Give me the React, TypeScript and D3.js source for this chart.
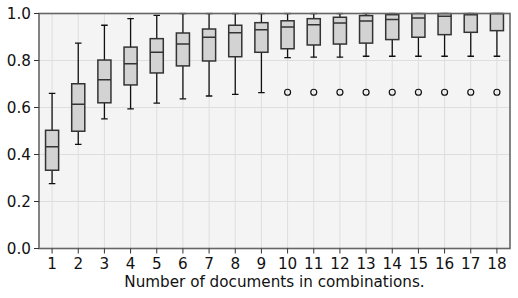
import * as d3 from "d3"

const W = 518
const H = 298
const margin = { top: 13.5, right: 8, bottom: 49.5, left: 39 }
const innerW = W - margin.left - margin.right
const innerH = H - margin.top - margin.bottom

const FONT = "DejaVu Sans, sans-serif"
const FONT_SIZE = 15.2

// counts of documents in a combination
const categories = [1, 2, 3, 4, 5, 6, 7, 8, 9, 10, 11, 12, 13, 14, 15, 16, 17, 18]
const q1 = [0.333, 0.499, 0.62, 0.696, 0.747, 0.777, 0.798, 0.816, 0.835, 0.85, 0.866, 0.87, 0.874, 0.889, 0.899, 0.91, 0.92, 0.927]
const medians = [0.433, 0.614, 0.718, 0.786, 0.835, 0.87, 0.899, 0.918, 0.931, 0.943, 0.952, 0.96, 0.968, 0.974, 0.981, 0.988, 0.995, 1.0]
const q3 = [0.503, 0.701, 0.802, 0.857, 0.893, 0.917, 0.934, 0.95, 0.961, 0.969, 0.978, 0.984, 0.991, 0.995, 1.0, 1.0, 1.0, 1.0]
const whiskerLow = [0.276, 0.443, 0.552, 0.594, 0.619, 0.637, 0.649, 0.656, 0.663, 0.812, 0.814, 0.814, 0.818, 0.818, 0.818, 0.818, 0.818, 0.818]
const whiskerHigh = [0.66, 0.874, 0.95, 0.978, 0.992, 1.0, 1.0, 1.0, 1.0, 1.0, 1.0, 1.0, 1.0, 1.0, 1.0, 1.0, 1.0, 1.0]
const outliers: number[][] = [[], [], [], [], [], [], [], [], [], [0.665], [0.665], [0.665], [0.665], [0.665], [0.665], [0.665], [0.665], [0.665]]
const yTicks = [0, 0.2, 0.4, 0.6, 0.8, 1.0]
const xLabel = "Number of documents in combinations."

export default function App() {
  const x = d3.scaleLinear().domain([0.5, 18.5]).range([0, innerW])
  const y = d3.scaleLinear().domain([0, 1]).range([innerH, 0])
  const boxW = x(1.25) - x(1)
  const capW = x(1.125) - x(1)

  return (
    <div style={{ position: "fixed", left: 0, top: 0 }}>
      <svg width={W} height={H} style={{ display: "block", background: "#fff" }}>
        <defs>
          <clipPath id="plot-clip">
            <rect x={-2} y={-1} width={innerW + 4} height={innerH + 2} />
          </clipPath>
        </defs>
        <g transform={`translate(${margin.left},${margin.top})`}>
          <rect width={innerW} height={innerH} fill="#f4f4f4" />

          {/* grid */}
          {yTicks.map((t) => (
            <line key={"gy" + t} x1={0} x2={innerW} y1={y(t)} y2={y(t)} stroke="#dedede" strokeWidth={1} />
          ))}
          {categories.map((c) => (
            <line key={"gx" + c} x1={x(c)} x2={x(c)} y1={0} y2={innerH} stroke="#dedede" strokeWidth={1} />
          ))}

          {/* boxes */}
          <g clipPath="url(#plot-clip)">
            {categories.map((c, i) => {
              const cx = x(c)
              return (
                <g key={"b" + c}>
                  <line x1={cx} x2={cx} y1={y(q1[i])} y2={y(whiskerLow[i])} stroke="#111" strokeWidth={1.3} />
                  <line x1={cx} x2={cx} y1={y(q3[i])} y2={y(whiskerHigh[i])} stroke="#111" strokeWidth={1.3} />
                  <line x1={cx - capW} x2={cx + capW} y1={y(whiskerLow[i])} y2={y(whiskerLow[i])} stroke="#111" strokeWidth={1.3} />
                  <line x1={cx - capW} x2={cx + capW} y1={y(whiskerHigh[i])} y2={y(whiskerHigh[i])} stroke="#111" strokeWidth={1.3} />
                  <rect
                    x={cx - boxW}
                    y={y(q3[i])}
                    width={boxW * 2}
                    height={y(q1[i]) - y(q3[i])}
                    fill="#d3d3d3"
                    stroke="#333"
                    strokeWidth={1.5}
                  />
                  <line x1={cx - boxW} x2={cx + boxW} y1={y(medians[i])} y2={y(medians[i])} stroke="#333" strokeWidth={1.5} />
                  {outliers[i].map((o, j) => (
                    <circle key={j} cx={cx} cy={y(o)} r={3} fill="none" stroke="#111" strokeWidth={1.2} />
                  ))}
                </g>
              )
            })}
          </g>

          {/* spines */}
          <rect width={innerW} height={innerH} fill="none" stroke="#666" strokeWidth={1.6} />

          {/* y axis */}
          {yTicks.map((t) => (
            <g key={"yt" + t} transform={`translate(0,${y(t)})`}>
              <line x1={-5} x2={0} stroke="#333" strokeWidth={1} />
              <text
                x={-8}
                dy="0.36em"
                textAnchor="end"
                fontFamily={FONT}
                fontSize={FONT_SIZE}
                fill="#111"
              >
                {d3.format(".1f")(t)}
              </text>
            </g>
          ))}

          {/* x axis */}
          {categories.map((c) => (
            <g key={"xt" + c} transform={`translate(${x(c)},${innerH})`}>
              <line y1={0} y2={5} stroke="#333" strokeWidth={1} />
              <text y={20.5} textAnchor="middle" fontFamily={FONT} fontSize={FONT_SIZE} fill="#111">
                {c}
              </text>
            </g>
          ))}
          <text
            x={innerW / 2}
            y={innerH + 38}
            textAnchor="middle"
            fontFamily={FONT}
            fontSize={FONT_SIZE}
            fill="#111"
          >
            {xLabel}
          </text>
        </g>
      </svg>
    </div>
  )
}
